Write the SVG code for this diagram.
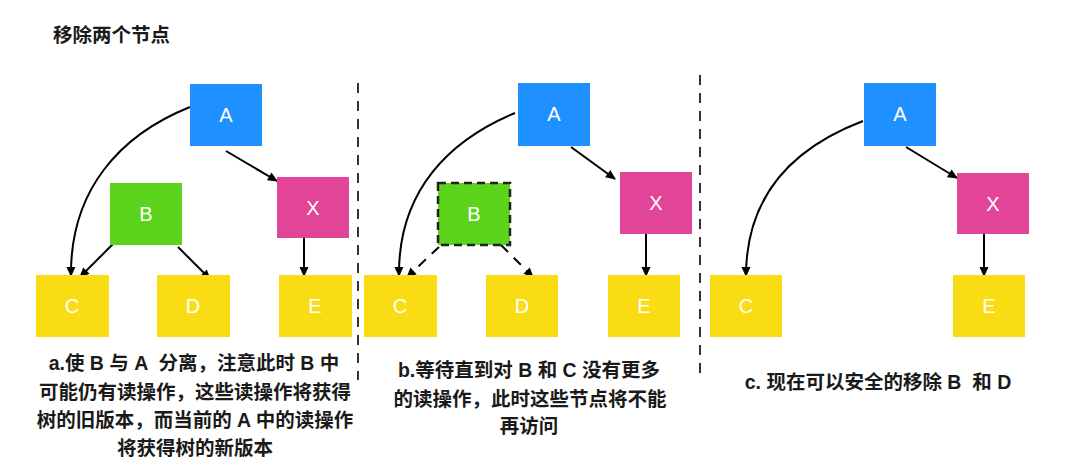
<svg xmlns="http://www.w3.org/2000/svg" width="1080" height="465" viewBox="0 0 1080 465">
<style>
.bg{fill:#ffffff}
.blue{fill:#1e90ff}
.green{fill:#5dd41c}
.pink{fill:#e24598}
.yellow{fill:#fadc14}
.lbl{font-family:"Liberation Sans","Noto Sans",sans-serif;font-size:20px;fill:#ffffff;text-anchor:middle}
.cap{font-family:"Liberation Sans","Noto Sans CJK SC",sans-serif;font-size:19.5px;font-weight:bold;fill:#1a1a1a;text-anchor:middle;white-space:pre}
.title{font-family:"Liberation Sans","Noto Sans CJK SC",sans-serif;font-size:19.5px;font-weight:bold;fill:#1a1a1a;white-space:pre}
.edge{fill:none;stroke:#000000;stroke-width:2;marker-end:url(#arr)}
.dedge{fill:none;stroke:#000000;stroke-width:2;stroke-dasharray:10 8;marker-end:url(#arr)}
.div{stroke:#333333;stroke-width:2;stroke-dasharray:10 8}
.dashbox{stroke:#222222;stroke-width:2.5;stroke-dasharray:8 5}
</style>
<defs>
<marker id="arr" viewBox="0 0 10 10" refX="9" refY="5" markerWidth="5.5" markerHeight="5" orient="auto" markerUnits="strokeWidth">
<path d="M0,0.5 L10,5 L0,9.5 z" fill="#000000"/>
</marker>
</defs>
<rect class="bg" x="0" y="0" width="1080" height="465"/>
<text class="title" x="53" y="42">移除两个节点</text>

<g id="dividers">
<line class="div" x1="358" y1="83" x2="358" y2="380"/>
<line class="div" x1="700" y1="75" x2="700" y2="376"/>
</g>

<g id="connectors">
<path class="edge" d="M190,107 C120,135 70,190 71,276"/>
<path class="edge" d="M226,151 L277,181"/>
<path class="edge" d="M114,243 L80,277"/>
<path class="edge" d="M178,247 L210,279"/>
<path class="edge" d="M304,238 L304,276"/>

<path class="edge" d="M515,113 C450,140 398,190 399,276"/>
<path class="edge" d="M571,147 L615,179"/>
<path class="dedge" d="M439,247 L407,277"/>
<path class="dedge" d="M501,245 L533,277"/>
<path class="edge" d="M646,234 L646,276"/>

<path class="edge" d="M863,121 C800,145 746,190 746,276"/>
<path class="edge" d="M906,147 L957,178"/>
<path class="edge" d="M984,234 L984,276"/>
</g>

<g id="p1-A"><rect class="blue" x="190" y="84" width="72" height="62"/><text class="lbl" x="226" y="122">A</text></g>
<g id="p1-B"><rect class="green" x="110" y="183" width="72" height="62"/><text class="lbl" x="146" y="221">B</text></g>
<g id="p1-X"><rect class="pink" x="277" y="177" width="72" height="61"/><text class="lbl" x="313" y="215">X</text></g>
<g id="p1-C"><rect class="yellow" x="36" y="275" width="73" height="62"/><text class="lbl" x="72" y="313">C</text></g>
<g id="p1-D"><rect class="yellow" x="157" y="275" width="73" height="62"/><text class="lbl" x="193" y="313">D</text></g>
<g id="p1-E"><rect class="yellow" x="279" y="275" width="73" height="62"/><text class="lbl" x="315" y="313">E</text></g>

<g id="p2-A"><rect class="blue" x="518" y="83" width="72" height="63"/><text class="lbl" x="554" y="121">A</text></g>
<g id="p2-B"><rect class="green dashbox" x="438" y="183" width="72" height="62"/><text class="lbl" x="474" y="221">B</text></g>
<g id="p2-X"><rect class="pink" x="620" y="172" width="72" height="62"/><text class="lbl" x="656" y="210">X</text></g>
<g id="p2-C"><rect class="yellow" x="364" y="275" width="73" height="62"/><text class="lbl" x="400" y="313">C</text></g>
<g id="p2-D"><rect class="yellow" x="486" y="275" width="72" height="62"/><text class="lbl" x="522" y="313">D</text></g>
<g id="p2-E"><rect class="yellow" x="608" y="275" width="72" height="62"/><text class="lbl" x="644" y="313">E</text></g>

<g id="p3-A"><rect class="blue" x="864" y="83" width="72" height="63"/><text class="lbl" x="900" y="121">A</text></g>
<g id="p3-X"><rect class="pink" x="957" y="173" width="72" height="61"/><text class="lbl" x="993" y="211">X</text></g>
<g id="p3-C"><rect class="yellow" x="710" y="275" width="72" height="62"/><text class="lbl" x="746" y="313">C</text></g>
<g id="p3-E"><rect class="yellow" x="953" y="275" width="72" height="62"/><text class="lbl" x="989" y="313">E</text></g>

<g id="caption-a">
<text class="cap" x="194" y="370">a.使 B 与 A  分离，注意此时 B 中</text>
<text class="cap" x="195" y="399">可能仍有读操作，这些读操作将获得</text>
<text class="cap" x="195" y="427">树的旧版本，而当前的 A 中的读操作</text>
<text class="cap" x="195" y="455">将获得树的新版本</text>
</g>
<g id="caption-b">
<text class="cap" x="529" y="377">b.等待直到对 B 和 C 没有更多</text>
<text class="cap" x="530" y="406">的读操作，此时这些节点将不能</text>
<text class="cap" x="529" y="433">再访问</text>
</g>
<g id="caption-c">
<text class="cap" x="878" y="389">c. 现在可以安全的移除 B  和 D</text>
</g>
</svg>
